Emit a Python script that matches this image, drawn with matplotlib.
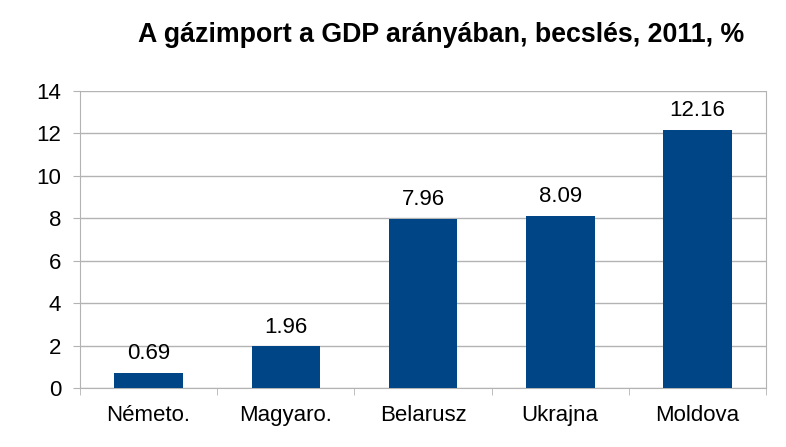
import matplotlib
matplotlib.use("Agg")
import matplotlib.pyplot as plt
import numpy as np

plt.rcParams['font.family'] = ['Liberation Sans', 'DejaVu Sans']

countries = ["Németo.", "Magyaro.", "Belarusz", "Ukrajna", "Moldova"]
values = [0.69, 1.96, 7.96, 8.09, 12.16]
yticks = [0, 2, 4, 6, 8, 10, 12, 14]

fig = plt.figure(figsize=(7.86, 4.47), dpi=100)
ax = fig.add_axes([0.1018, 0.132, 0.8728, 0.6644])

x = np.arange(len(countries))
ax.bar(x, values, width=0.5, color="#004586", zorder=3)
for xi, v in zip(x, values):
    ax.annotate(f"{v:.2f}", (xi, v), xytext=(0, 10), textcoords="offset points",
                ha="center", va="baseline", fontsize=16, color="#000000")

ax.set_xlim(-0.5, len(countries) - 0.5)
ax.set_ylim(0, 14)
ax.set_yticks(yticks)
ax.set_yticklabels([str(t) for t in yticks], fontsize=16)
ax.yaxis.grid(True, color="#b3b3b3", linewidth=1, zorder=0)
ax.tick_params(axis="y", length=5, color="#b3b3b3", pad=8.5)

ax.set_xticks(x)
ax.set_xticklabels(countries, fontsize=16)
ax.tick_params(axis="x", length=0, pad=12)
ax.set_xticks(np.arange(len(countries) + 1) - 0.5, minor=True)
ax.tick_params(axis="x", which="minor", length=5, color="#b3b3b3")

for s in ["left", "right", "bottom", "top"]:
    ax.spines[s].set_color("#b3b3b3")
ax.spines["top"].set_visible(False)

fig.text(0.561, 0.906, "A gázimport a GDP arányában, becslés, 2011, %",
         ha="center", va="baseline", fontsize=19.3, fontweight="bold")

fig.savefig("out.png", dpi=100)
